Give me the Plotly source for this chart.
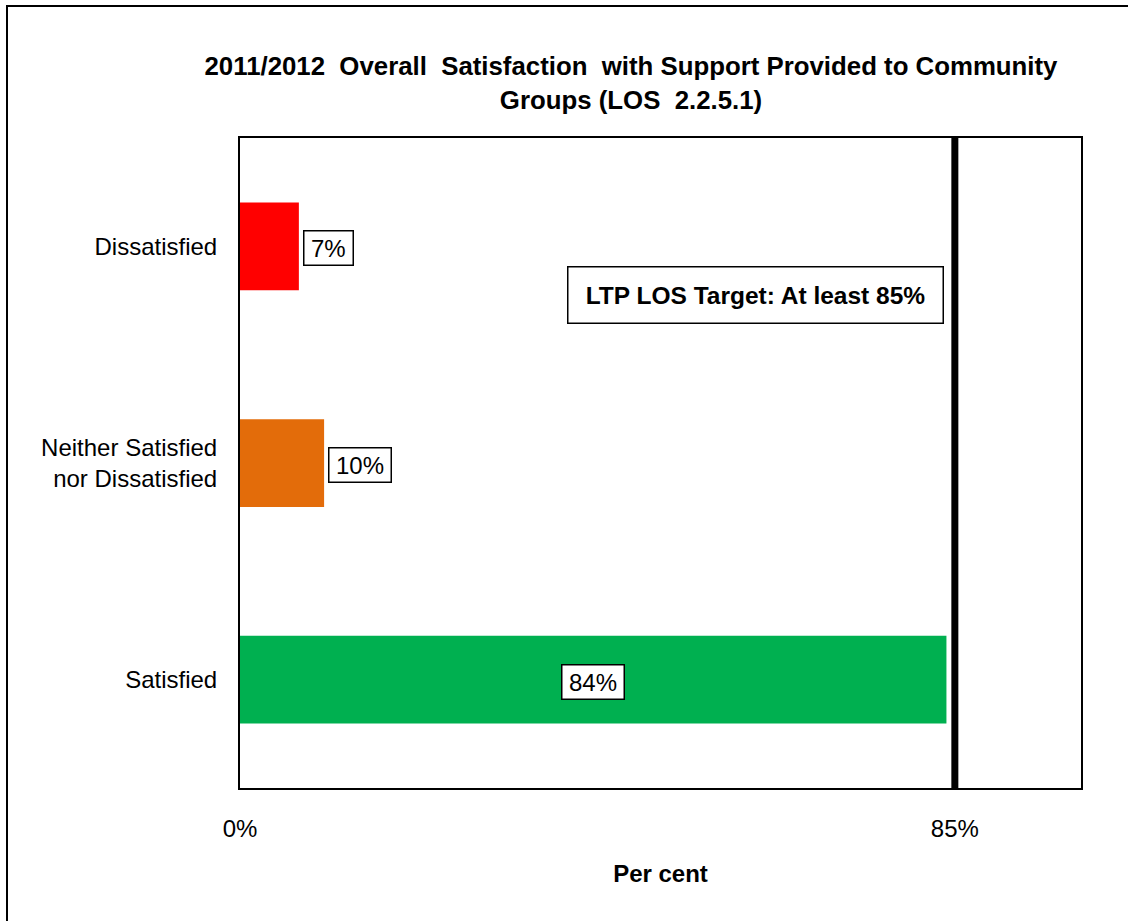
import plotly.graph_objects as go

# Survey results, top to bottom
categories = ["Dissatisfied", "Neither Satisfied<br>nor Dissatisfied", "Satisfied"]
percent = [7, 10, 84]
bar_colors = ["#FF0000", "#E36C0A", "#00B050"]

target_value = 85
target_text = "LTP LOS Target: At least 85%"
tick_values = [0, 85]
tick_labels = ["0%", "85%"]

FONT = "Arial, Liberation Sans, sans-serif"
FS = 24

fig = go.Figure()
fig.add_trace(go.Bar(
    x=percent,
    y=categories,
    orientation="h",
    marker=dict(color=bar_colors, line=dict(width=0)),
    width=0.405,
    hoverinfo="skip",
))

# Value labels in boxed annotations: inside the long bar, just past the short ones
for cat, val in zip(categories, percent):
    inside = val > 50
    label = f"{val}%"
    text_w = (0.556 * (len(label) - 1) + 0.889) * FS + 7
    fig.add_annotation(
        x=val / 2 if inside else val,
        y=cat,
        xref="x", yref="y",
        text=label,
        showarrow=False,
        xanchor="center" if inside else "left",
        xshift=0 if inside else 4,
        yshift=-2,
        width=text_w,
        font=dict(family=FONT, size=FS, color="black"),
        bgcolor="white",
        bordercolor="black",
        borderwidth=1.5,
        borderpad=3,
    )

# Target line
fig.add_shape(
    type="line", xref="x", yref="y domain",
    x0=target_value, x1=target_value, y0=0, y1=1,
    line=dict(color="black", width=7),
)

# Target caption box
fig.add_annotation(
    x=(755.5 - 240) / 841, y=1 - (294.5 - 138) / 650,
    xref="paper", yref="paper",
    text=f"<b>{target_text}</b>",
    showarrow=False,
    xanchor="center", yanchor="middle",
    font=dict(family=FONT, size=24.5, color="black"),
    bgcolor="white",
    bordercolor="black",
    borderwidth=1.5,
    width=372, height=53,
)

# Outer chart-area frame
fig.add_shape(
    type="rect", xref="paper", yref="paper",
    x0=(7 - 240) / 841, x1=(1140 - 240) / 841,
    y0=-(940 - 788) / 650, y1=1 + (138 - 6) / 650,
    line=dict(color="black", width=2),
    fillcolor="rgba(0,0,0,0)",
    layer="below",
)

fig.update_layout(
    width=1128, height=921,
    margin=dict(l=240, r=47, t=138, b=133),
    paper_bgcolor="white", plot_bgcolor="white",
    showlegend=False,
    font=dict(family=FONT, size=FS, color="black"),
    title=dict(
        text="<b>2011/2012  Overall  Satisfaction  with Support Provided to Community<br>Groups (LOS  2.2.5.1)</b>",
        x=631 / 1128, xanchor="center",
        y=1 - 75 / 921, yanchor="middle",
        font=dict(family=FONT, size=25.8, color="black"),
    ),
)

fig.update_xaxes(
    range=[0, 100],
    tickvals=tick_values, ticktext=tick_labels,
    ticks="", showgrid=False, zeroline=False,
    showline=True, linecolor="black", linewidth=2, mirror=True,
    tickfont=dict(family=FONT, size=FS),
    ticklabelstandoff=18,
    title=dict(text="<b>Per cent</b>", font=dict(family=FONT, size=FS), standoff=24),
    fixedrange=True,
)
fig.update_yaxes(
    autorange="reversed",
    ticks="", showgrid=False, zeroline=False,
    showline=True, linecolor="black", linewidth=2, mirror=True,
    tickfont=dict(family=FONT, size=FS),
    ticklabelstandoff=16,
    fixedrange=True,
)

fig.write_html("out.html", config={"displayModeBar": False})
